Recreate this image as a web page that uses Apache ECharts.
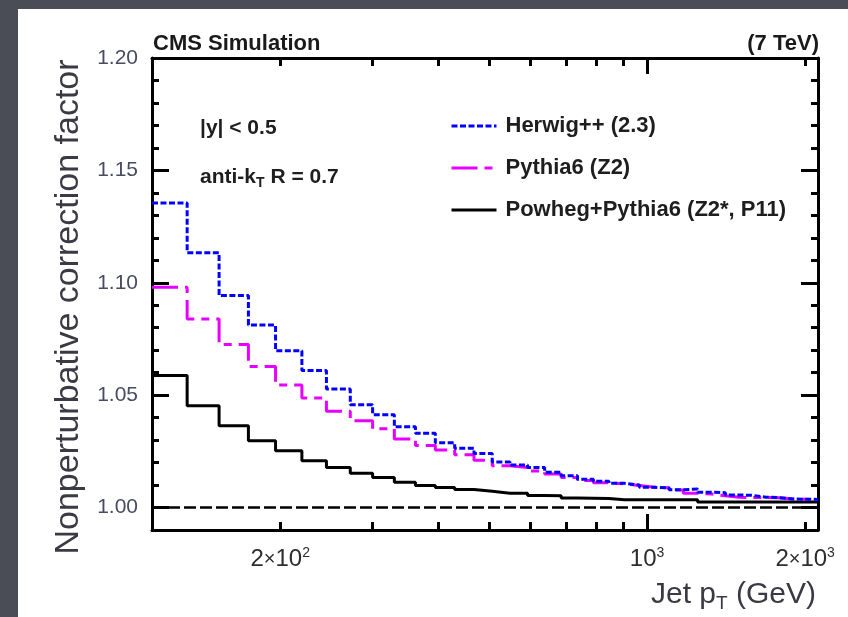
<!DOCTYPE html>
<html>
<head>
<meta charset="utf-8">
<script src="https://cdn.jsdelivr.net/npm/echarts@6/dist/echarts.min.js"></script>
<style>
  html, body { margin: 0; padding: 0; width: 848px; height: 617px; overflow: hidden; background: #4a4d55; }
  #panel { position: absolute; left: 18px; top: 9px; right: 0; bottom: 0; background: #ffffff; }
  #chart { position: absolute; left: 0; top: 0; width: 848px; height: 617px; }
</style>
</head>
<body>
<div id="panel"></div>
<div id="chart"></div>
<script>
// Jet pT bin edges (GeV)
const binEdges = [114, 133, 153, 174, 196, 220, 245, 272, 300, 330, 362, 395, 430, 468, 507, 548, 592, 638, 686, 737, 790, 846, 905, 967, 1032, 1101, 1172, 1248, 1327, 1410, 1497, 1588, 1684, 1784, 1890, 2000, 2116];

// Nonperturbative correction factor per bin
const herwig = [1.1355, 1.1134, 1.0943, 1.0812, 1.0698, 1.0610, 1.0527, 1.0457, 1.0413, 1.0359, 1.0330, 1.0288, 1.0264, 1.0240, 1.0202, 1.0189, 1.0178, 1.0157, 1.0141, 1.0126, 1.0117, 1.0108, 1.0100, 1.0090, 1.0088, 1.0079, 1.0082, 1.0068, 1.0066, 1.0056, 1.0054, 1.0046, 1.0044, 1.0038, 1.0037, 1.0036];
const pythia = [1.0980, 1.0839, 1.0725, 1.0627, 1.0545, 1.0487, 1.0428, 1.0386, 1.0350, 1.0305, 1.0276, 1.0256, 1.0235, 1.0210, 1.0186, 1.0178, 1.0163, 1.0149, 1.0134, 1.0120, 1.0110, 1.0105, 1.0098, 1.0090, 1.0088, 1.0078, 1.0064, 1.0060, 1.0052, 1.0046, 1.0044, 1.0045, 1.0043, 1.0038, 1.0037, 1.0036];
const powheg = [1.0587, 1.0453, 1.0364, 1.0297, 1.0253, 1.0208, 1.0178, 1.0153, 1.0134, 1.0113, 1.0098, 1.0089, 1.0080, 1.0072, 1.0064, 1.0063, 1.0053, 1.0052, 1.0042, 1.0041, 1.0040, 1.0035, 1.0035, 1.0035, 1.0035, 1.0035, 1.0035, 1.0025, 1.0025, 1.0025, 1.0025, 1.0025, 1.0025, 1.0025, 1.0025, 1.0025];

const seriesNames = ['Herwig++ (2.3)', 'Pythia6 (Z2)', 'Powheg+Pythia6 (Z2*, P11)'];

// Axis ticks and labels
const xMinorTicks = [200, 300, 400, 500, 600, 700, 800, 900, 2000];
const xMajorTicks = [1000];
const xTickLabels = [200, 1000, 2000];
const yMajorTicks = [1.00, 1.05, 1.10, 1.15, 1.20];
const yMinorTicks = [1.01, 1.02, 1.03, 1.04, 1.06, 1.07, 1.08, 1.09, 1.11, 1.12, 1.13, 1.14, 1.16, 1.17, 1.18, 1.19];
const referenceLevel = 1.0;

const FONT = '"Liberation Sans", Arial, Helvetica, sans-serif';

// histogram outline: one point per left bin edge, plus the closing right edge
function histogram(values) {
  const pts = values.map((v, i) => [binEdges[i], v]);
  pts.push([binEdges[binEdges.length - 1], values[values.length - 1]]);
  return pts;
}

function powerLabel(v) {
  const e = Math.floor(Math.log10(v) + 1e-9);
  const m = Math.round(v / Math.pow(10, e));
  return (m === 1 ? '' : m + '{x|×}') + '10{s|' + e + '}';
}

const xBase = {
  type: 'log', logBase: 10, min: binEdges[0], max: binEdges[binEdges.length - 1],
  splitLine: { show: false }, axisLabel: { show: false }
};
const yBase = {
  type: 'value', min: 0.99, max: 1.2,
  splitLine: { show: false }, axisLabel: { show: false }
};
const axisLineStyle = { show: true, onZero: false, lineStyle: { color: '#000', width: 3 } };
const noLine = { show: false };
function ticks(values, len) {
  return { show: true, inside: true, length: len, customValues: values, lineStyle: { color: '#000', width: 3 } };
}

const chart = echarts.init(document.getElementById('chart'), null, { renderer: 'canvas' });

chart.setOption({
  animation: false,
  backgroundColor: 'transparent',
  grid: { left: 152, top: 58, right: 30, bottom: 87, containLabel: false },
  xAxis: [
    Object.assign({}, xBase, {
      position: 'bottom', axisLine: axisLineStyle, axisTick: ticks(xMinorTicks, 8),
      axisLabel: {
        show: true, customValues: xTickLabels, margin: 16,
        color: '#2e2e2e', fontFamily: FONT, fontSize: 24,
        formatter: powerLabel,
        rich: {
          x: { fontFamily: FONT, fontSize: 20, color: '#2e2e2e' },
          s: { fontFamily: FONT, fontSize: 14, color: '#2e2e2e', padding: [0, 0, 12, 0] }
        }
      }
    }),
    Object.assign({}, xBase, { position: 'bottom', axisLine: noLine, axisTick: ticks(xMajorTicks, 16) }),
    Object.assign({}, xBase, { position: 'top', axisLine: axisLineStyle, axisTick: ticks(xMinorTicks, 8) }),
    Object.assign({}, xBase, { position: 'top', axisLine: noLine, axisTick: ticks(xMajorTicks, 16) })
  ],
  yAxis: [
    Object.assign({}, yBase, {
      position: 'left', axisLine: axisLineStyle, axisTick: ticks(yMajorTicks, 17),
      axisLabel: {
        show: true, customValues: yMajorTicks, margin: 14,
        color: '#474c62', fontFamily: FONT, fontSize: 21,
        formatter: v => v.toFixed(2)
      }
    }),
    Object.assign({}, yBase, { position: 'left', axisLine: noLine, axisTick: ticks(yMinorTicks, 7) }),
    Object.assign({}, yBase, { position: 'right', axisLine: axisLineStyle, axisTick: ticks(yMajorTicks, 17) }),
    Object.assign({}, yBase, { position: 'right', axisLine: noLine, axisTick: ticks(yMinorTicks, 7) })
  ],
  legend: {
    orient: 'vertical', left: 450, top: 114, padding: 0,
    itemWidth: 45, itemHeight: 14, itemGap: 18,
    itemStyle: { opacity: 0 },
    lineStyle: { width: 3, opacity: 1 },
    textStyle: { fontFamily: FONT, fontWeight: 'bold', fontSize: 22, color: '#1e1e1e', lineHeight: 24, padding: [0, 0, 0, 4] },
    data: seriesNames
  },
  series: [
    {
      name: seriesNames[2], type: 'line', step: 'end', xAxisIndex: 0, yAxisIndex: 0,
      data: histogram(powheg), symbol: 'none', z: 3,
      lineStyle: { color: '#000000', width: 3, type: 'solid' },
      itemStyle: { color: '#000000' },
      markLine: {
        silent: true, symbol: ['none', 'none'], label: { show: false },
        lineStyle: { color: '#000', width: 2.5, type: [12, 4] },
        data: [{ yAxis: referenceLevel }]
      }
    },
    {
      name: seriesNames[1], type: 'line', step: 'end', xAxisIndex: 0, yAxisIndex: 0,
      data: histogram(pythia), symbol: 'none', z: 4,
      lineStyle: { color: '#e600ff', width: 3, type: [26, 7, 8, 7] },
      itemStyle: { color: '#e600ff' }
    },
    {
      name: seriesNames[0], type: 'line', step: 'end', xAxisIndex: 0, yAxisIndex: 0,
      data: histogram(herwig), symbol: 'none', z: 5,
      lineStyle: { color: '#0000ff', width: 3, type: [6, 2.5] },
      itemStyle: { color: '#0000ff' }
    }
  ],
  graphic: [
    {
      type: 'text', x: 69, y: 307, rotation: Math.PI / 2,
      style: { text: 'Nonperturbative correction factor', font: '34px ' + FONT, fill: '#3a3a44', align: 'center', verticalAlign: 'middle' }
    },
    { type: 'text', left: 153, top: 33, style: { text: 'CMS Simulation', font: 'bold 22px ' + FONT, fill: '#1a1a1a' } },
    { type: 'text', right: 29, top: 33, style: { text: '(7 TeV)', font: 'bold 22px ' + FONT, fill: '#1a1a1a' } },
    { type: 'text', left: 200, top: 118, style: { text: '|y| < 0.5', font: 'bold 21px ' + FONT, fill: '#1e1e1e' } },
    {
      type: 'text', left: 200, top: 167,
      style: {
        text: 'anti-k{sub|T} R = 0.7', font: 'bold 21px ' + FONT, fill: '#1e1e1e',
        rich: { sub: { font: 'bold 14px ' + FONT, fill: '#1e1e1e', padding: [12, 0, 0, 0] } }
      }
    },
    {
      type: 'text', right: 32, top: 580,
      style: {
        text: 'Jet p{sub|T} (GeV)', font: '30px ' + FONT, fill: '#3a3a44',
        rich: { sub: { font: '19px ' + FONT, fill: '#3a3a44', padding: [17, 0, 0, 0] } }
      }
    }
  ]
});
</script>
</body>
</html>
